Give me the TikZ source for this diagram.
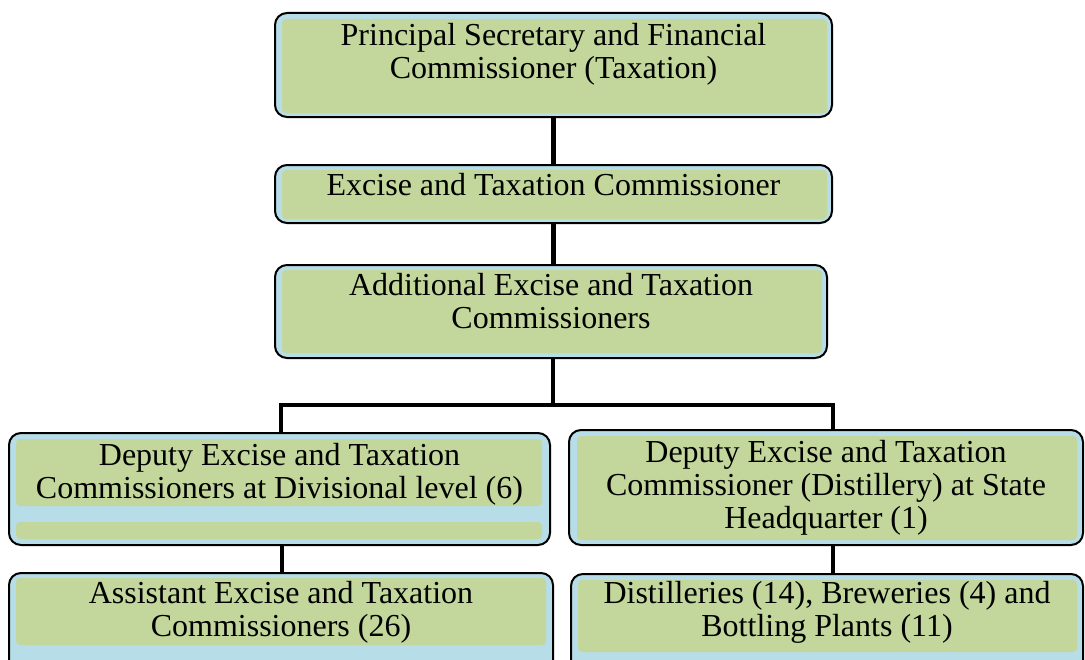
\documentclass[tikz,border=0pt]{standalone}
\usepackage{fontspec}
\setmainfont{Liberation Serif}
\usetikzlibrary{fit}
\definecolor{boxgreen}{HTML}{C3D69B}
\definecolor{boxblue}{HTML}{B7DEE8}
\tikzset{
  orgbox/.style={draw=black, line width=1.5pt, fill=boxblue, rounded corners=9pt, inner sep=0pt},
  inner/.style={fill=boxgreen, rounded corners=3pt},
  txt/.style={anchor=north, align=center, inner sep=0pt, font=\fontsize{24}{24.75}\selectfont, text=black},
  conn/.style={draw=black, line width=3.2pt}
}
\begin{document}
\begin{tikzpicture}[x=0.75pt, y=-0.75pt]
\useasboundingbox (0,0) rectangle (1085,660);
\clip (0,0) rectangle (1085,660);
% Box 1
\coordinate (p-nw) at (275,13); \coordinate (p-se) at (832,117);
\node[orgbox, fit=(p-nw)(p-se)] (p) {};
\fill[inner] (282,19) rectangle (827,113);
\node[txt] (p-t) at (553.5,23) {Principal Secretary and Financial\\Commissioner (Taxation)};
% Box 2
\coordinate (e-nw) at (275,165); \coordinate (e-se) at (832,223);
\node[orgbox, fit=(e-nw)(e-se)] (e) {};
\fill[inner] (282,170) rectangle (827,219);
\node[txt] (e-t) at (553.5,173) {Excise and Taxation Commissioner};
% Box 3
\coordinate (a-nw) at (275,265); \coordinate (a-se) at (827,358);
\node[orgbox, fit=(a-nw)(a-se)] (a) {};
\fill[inner] (282,270) rectangle (822,353);
\node[txt] (a-t) at (551,273) {Additional Excise and Taxation\\Commissioners};
% Box 4
\coordinate (d4-nw) at (9,433); \coordinate (d4-se) at (550,545);
\node[orgbox, fit=(d4-nw)(d4-se)] (d4) {};
\fill[inner] (16,439) rectangle (542,506);
\fill[inner] (16,522) rectangle (542,539);
\node[txt] (d4-t) at (279.5,443) {Deputy Excise and Taxation\\Commissioners at Divisional level (6)};
% Box 5
\coordinate (d5-nw) at (9,573); \coordinate (d5-se) at (553,690);
\node[orgbox, fit=(d5-nw)(d5-se)] (d5) {};
\fill[inner] (16,578) rectangle (546,645);
\node[txt] (d5-t) at (281,581) {Assistant Excise and Taxation\\Commissioners (26)};
% Box 6
\coordinate (d6-nw) at (569,430); \coordinate (d6-se) at (1083,545);
\node[orgbox, fit=(d6-nw)(d6-se)] (d6) {};
\fill[inner] (577,436) rectangle (1077,540);
\node[txt] (d6-t) at (826,440) {Deputy Excise and Taxation\\Commissioner (Distillery) at State\\Headquarter (1)};
% Box 7
\coordinate (d7-nw) at (571,574); \coordinate (d7-se) at (1083,690);
\node[orgbox, fit=(d7-nw)(d7-se)] (d7) {};
\fill[inner] (578,580) rectangle (1077,652);
\node[txt] (d7-t) at (827,581) {Distilleries (14), Breweries (4) and\\Bottling Plants (11)};
% connectors
\coordinate (bary) at (0,405);
\draw[conn] (p.south) -- (e.north);
\draw[conn] (e.south) -- (e.south |- a.north);
\draw[conn] ([xshift=1.5pt]a.south) -- ([xshift=1.5pt]a.south |- bary);
\draw[conn] ([xshift=1pt]d4.north) |- ([xshift=1.5pt]a.south |- bary) -| ([xshift=5pt]d6.north);
\draw[conn] ([xshift=2pt]d4.south) -- ([xshift=2pt]d4.south |- d5.north);
\draw[conn] ([xshift=5pt]d6.south) -- ([xshift=5pt]d6.south |- d7.north);
\end{tikzpicture}
\end{document}
